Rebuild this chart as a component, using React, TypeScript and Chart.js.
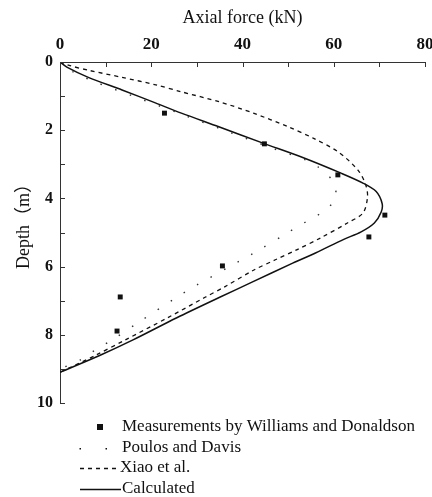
import React, { useEffect, useRef } from "react";
import { Chart, registerables } from "chart.js";

Chart.register(...registerables);

// Measurements by Williams and Donaldson
const measDepth = [1.5, 2.4, 3.31, 4.49, 5.13, 5.98, 6.89, 7.89];
const measForce = [22.9, 44.8, 60.9, 71.2, 67.7, 35.6, 13.2, 12.5];

// Poulos and Davis
const poulosDepth = [0, 0.3, 0.6, 1.0, 1.5, 2.0, 2.5, 2.87, 3.07, 3.5, 4.0, 4.4, 4.83, 5.0, 5.5, 6.0, 6.54, 6.9, 7.6, 8.1, 8.45, 8.74, 9.0];
const poulosForce = [0, 3, 8, 16, 26, 36, 46, 53.8, 56.5, 59.8, 60.4, 57.5, 52, 50, 43.8, 37.2, 30, 25.6, 17.6, 12, 7.7, 4.4, 0];

// Xiao et al.
const xiaoDepth = [0, 0.1, 0.25, 0.45, 0.67, 0.87, 1.17, 1.5, 1.9, 2.24, 2.64, 3.17, 3.6, 3.96, 4.43, 4.72, 5.16, 5.5, 5.8, 6.1, 6.6, 6.9, 7.5, 8.15, 8.6, 9.1];
const xiaoForce = [0, 2, 6.5, 13.6, 21, 26.5, 35, 42.4, 50, 55.6, 61, 65.3, 67, 67.4, 66.4, 63, 57.1, 52, 47.2, 42.5, 36, 31.8, 23.6, 14.3, 7.8, 0];

// Calculated
const calcDepth = [0, 0.15, 0.45, 0.82, 1.2, 1.5, 1.9, 2.38, 2.8, 3.26, 3.55, 3.8, 4.15, 4.4, 4.72, 4.98, 5.2, 5.6, 5.9, 6.45, 6.9, 7.5, 8.15, 8.6, 9.1];
const calcForce = [0, 1.5, 6.2, 13.6, 20.9, 26.6, 34.8, 44.5, 53.2, 61.6, 66.4, 69.3, 70.6, 70.4, 68.9, 66, 62.2, 56, 51, 42.2, 35, 25.6, 16, 8.8, 0];

const seriesLabels = [
  "Measurements by Williams and Donaldson",
  "Poulos and Davis",
  "Xiao et al.",
  "Calculated",
];

const xTickLabels = ["0", "20", "40", "60", "80"];
const yTickLabels = ["0", "2", "4", "6", "8", "10"];

const xTitle = "Axial force (kN)";
const yTitle = "Depth（m）";

const SERIF = '"Liberation Serif", "Times New Roman", "Noto Sans CJK SC", serif';
const INK = "#111";

export default function App() {
  const ref = useRef<HTMLCanvasElement>(null);

  useEffect(() => {
    const toPts = (xs: number[], ys: number[]) => xs.map((x, i) => ({ x, y: ys[i] }));

    const insideTicks = {
      id: "insideTicks",
      afterDatasetsDraw(chart: any) {
        const ctx = chart.ctx;
        const xs = chart.scales.x;
        const ys = chart.scales.y;
        const area = chart.chartArea;
        ctx.save();
        ctx.strokeStyle = "#333";
        ctx.lineWidth = 1;
        ctx.beginPath();
        xs.ticks.forEach((t: any) => {
          const px = Math.round(xs.getPixelForValue(t.value)) + 0.5;
          ctx.moveTo(px, area.top);
          ctx.lineTo(px, area.top + 5);
        });
        ys.ticks.forEach((t: any) => {
          const py = Math.round(ys.getPixelForValue(t.value)) + 0.5;
          ctx.moveTo(area.left, py);
          ctx.lineTo(area.left + 5, py);
        });
        ctx.stroke();
        // rotated y-axis title
        ctx.fillStyle = INK;
        ctx.font = `18px ${SERIF}`;
        ctx.textAlign = "center";
        ctx.textBaseline = "middle";
        ctx.translate(24, 222);
        ctx.rotate(-Math.PI / 2);
        ctx.fillText(yTitle, 0, 0);
        ctx.restore();
      },
    };

    const bottomLegend = {
      id: "bottomLegend",
      afterDraw(chart: any) {
        const ctx = chart.ctx;
        const ds = chart.data.datasets;
        ctx.save();
        ctx.fillStyle = INK;
        ctx.strokeStyle = INK;
        ctx.font = `17px ${SERIF}`;
        ctx.textBaseline = "middle";
        ctx.textAlign = "left";
        const rows = [427, 448, 468, 489];
        ctx.fillRect(97, rows[0] - 3, 6, 6);
        ctx.fillText(ds[0].label, 122, rows[0]);
        ctx.fillRect(79.5, rows[1], 1.5, 1.5);
        ctx.fillRect(105.5, rows[1], 1.5, 1.5);
        ctx.fillText(ds[1].label, 122, rows[1]);
        ctx.lineWidth = 1.3;
        ctx.setLineDash([4, 4]);
        ctx.beginPath();
        ctx.moveTo(80, rows[2] + 0.5);
        ctx.lineTo(119, rows[2] + 0.5);
        ctx.stroke();
        ctx.fillText(ds[2].label, 120, rows[2]);
        ctx.setLineDash([]);
        ctx.lineWidth = 1.5;
        ctx.beginPath();
        ctx.moveTo(80, rows[3] + 0.5);
        ctx.lineTo(121, rows[3] + 0.5);
        ctx.stroke();
        ctx.fillText(ds[3].label, 122, rows[3]);
        ctx.restore();
      },
    };

    const chart = new Chart(ref.current as HTMLCanvasElement, {
      type: "scatter",
      data: {
        datasets: [
          {
            label: seriesLabels[0],
            data: toPts(measForce, measDepth),
            showLine: false,
            pointStyle: "rect",
            pointRadius: 3.5,
            backgroundColor: INK,
            borderColor: INK,
            borderWidth: 0,
          },
          {
            label: seriesLabels[1],
            data: toPts(poulosForce, poulosDepth),
            showLine: true,
            pointRadius: 0,
            borderColor: "#333",
            borderWidth: 1.4,
            borderDash: [1.5, 14],
            tension: 0.3,
          },
          {
            label: seriesLabels[2],
            data: toPts(xiaoForce, xiaoDepth),
            showLine: true,
            pointRadius: 0,
            borderColor: INK,
            borderWidth: 1.3,
            borderDash: [4, 4],
            tension: 0.3,
          },
          {
            label: seriesLabels[3],
            data: toPts(calcForce, calcDepth),
            showLine: true,
            pointRadius: 0,
            borderColor: INK,
            borderWidth: 1.5,
            tension: 0.3,
          },
        ],
      } as any,
      options: {
        responsive: false,
        animation: false,
        events: [],
        layout: { padding: { left: 0, right: 7, top: 0, bottom: 94 } },
        plugins: {
          legend: { display: false },
          tooltip: { enabled: false },
        },
        scales: {
          x: {
            type: "linear",
            position: "top",
            min: 0,
            max: 80,
            grid: { display: true, drawOnChartArea: false, drawTicks: false },
            border: { display: true, color: "#333", width: 1 },
            ticks: {
              stepSize: 10,
              padding: 7,
              color: INK,
              font: { family: SERIF, size: 17, weight: "bold" },
              callback: (v: any) => (Number(v) % 20 === 0 ? xTickLabels[Number(v) / 20] : ""),
            },
            title: {
              display: true,
              text: xTitle,
              color: INK,
              font: { family: SERIF, size: 18 },
              padding: { top: 7, bottom: 0 },
            },
            afterFit: (s: any) => {
              s.height = 62;
              s.paddingLeft = 0;
              s.paddingRight = 0;
            },
          },
          y: {
            type: "linear",
            reverse: true,
            min: 0,
            max: 10,
            grid: { display: true, drawOnChartArea: false, drawTicks: false },
            border: { display: true, color: "#333", width: 1 },
            ticks: {
              stepSize: 1,
              padding: 7,
              color: INK,
              font: { family: SERIF, size: 16, weight: "bold" },
              callback: (v: any) => (Number(v) % 2 === 0 ? yTickLabels[Number(v) / 2] : ""),
            },
            title: { display: false },
            afterFit: (s: any) => {
              s.width = 60;
              s.paddingTop = 0;
              s.paddingBottom = 0;
            },
          },
        },
      } as any,
      plugins: [insideTicks, bottomLegend],
    });
    return () => chart.destroy();
  }, []);

  return (
    <div style={{ position: "fixed", left: 0, top: 0, width: 432, height: 497, background: "#fff" }}>
      <canvas ref={ref} width={432} height={497} style={{ width: 432, height: 497 }} />
    </div>
  );
}
